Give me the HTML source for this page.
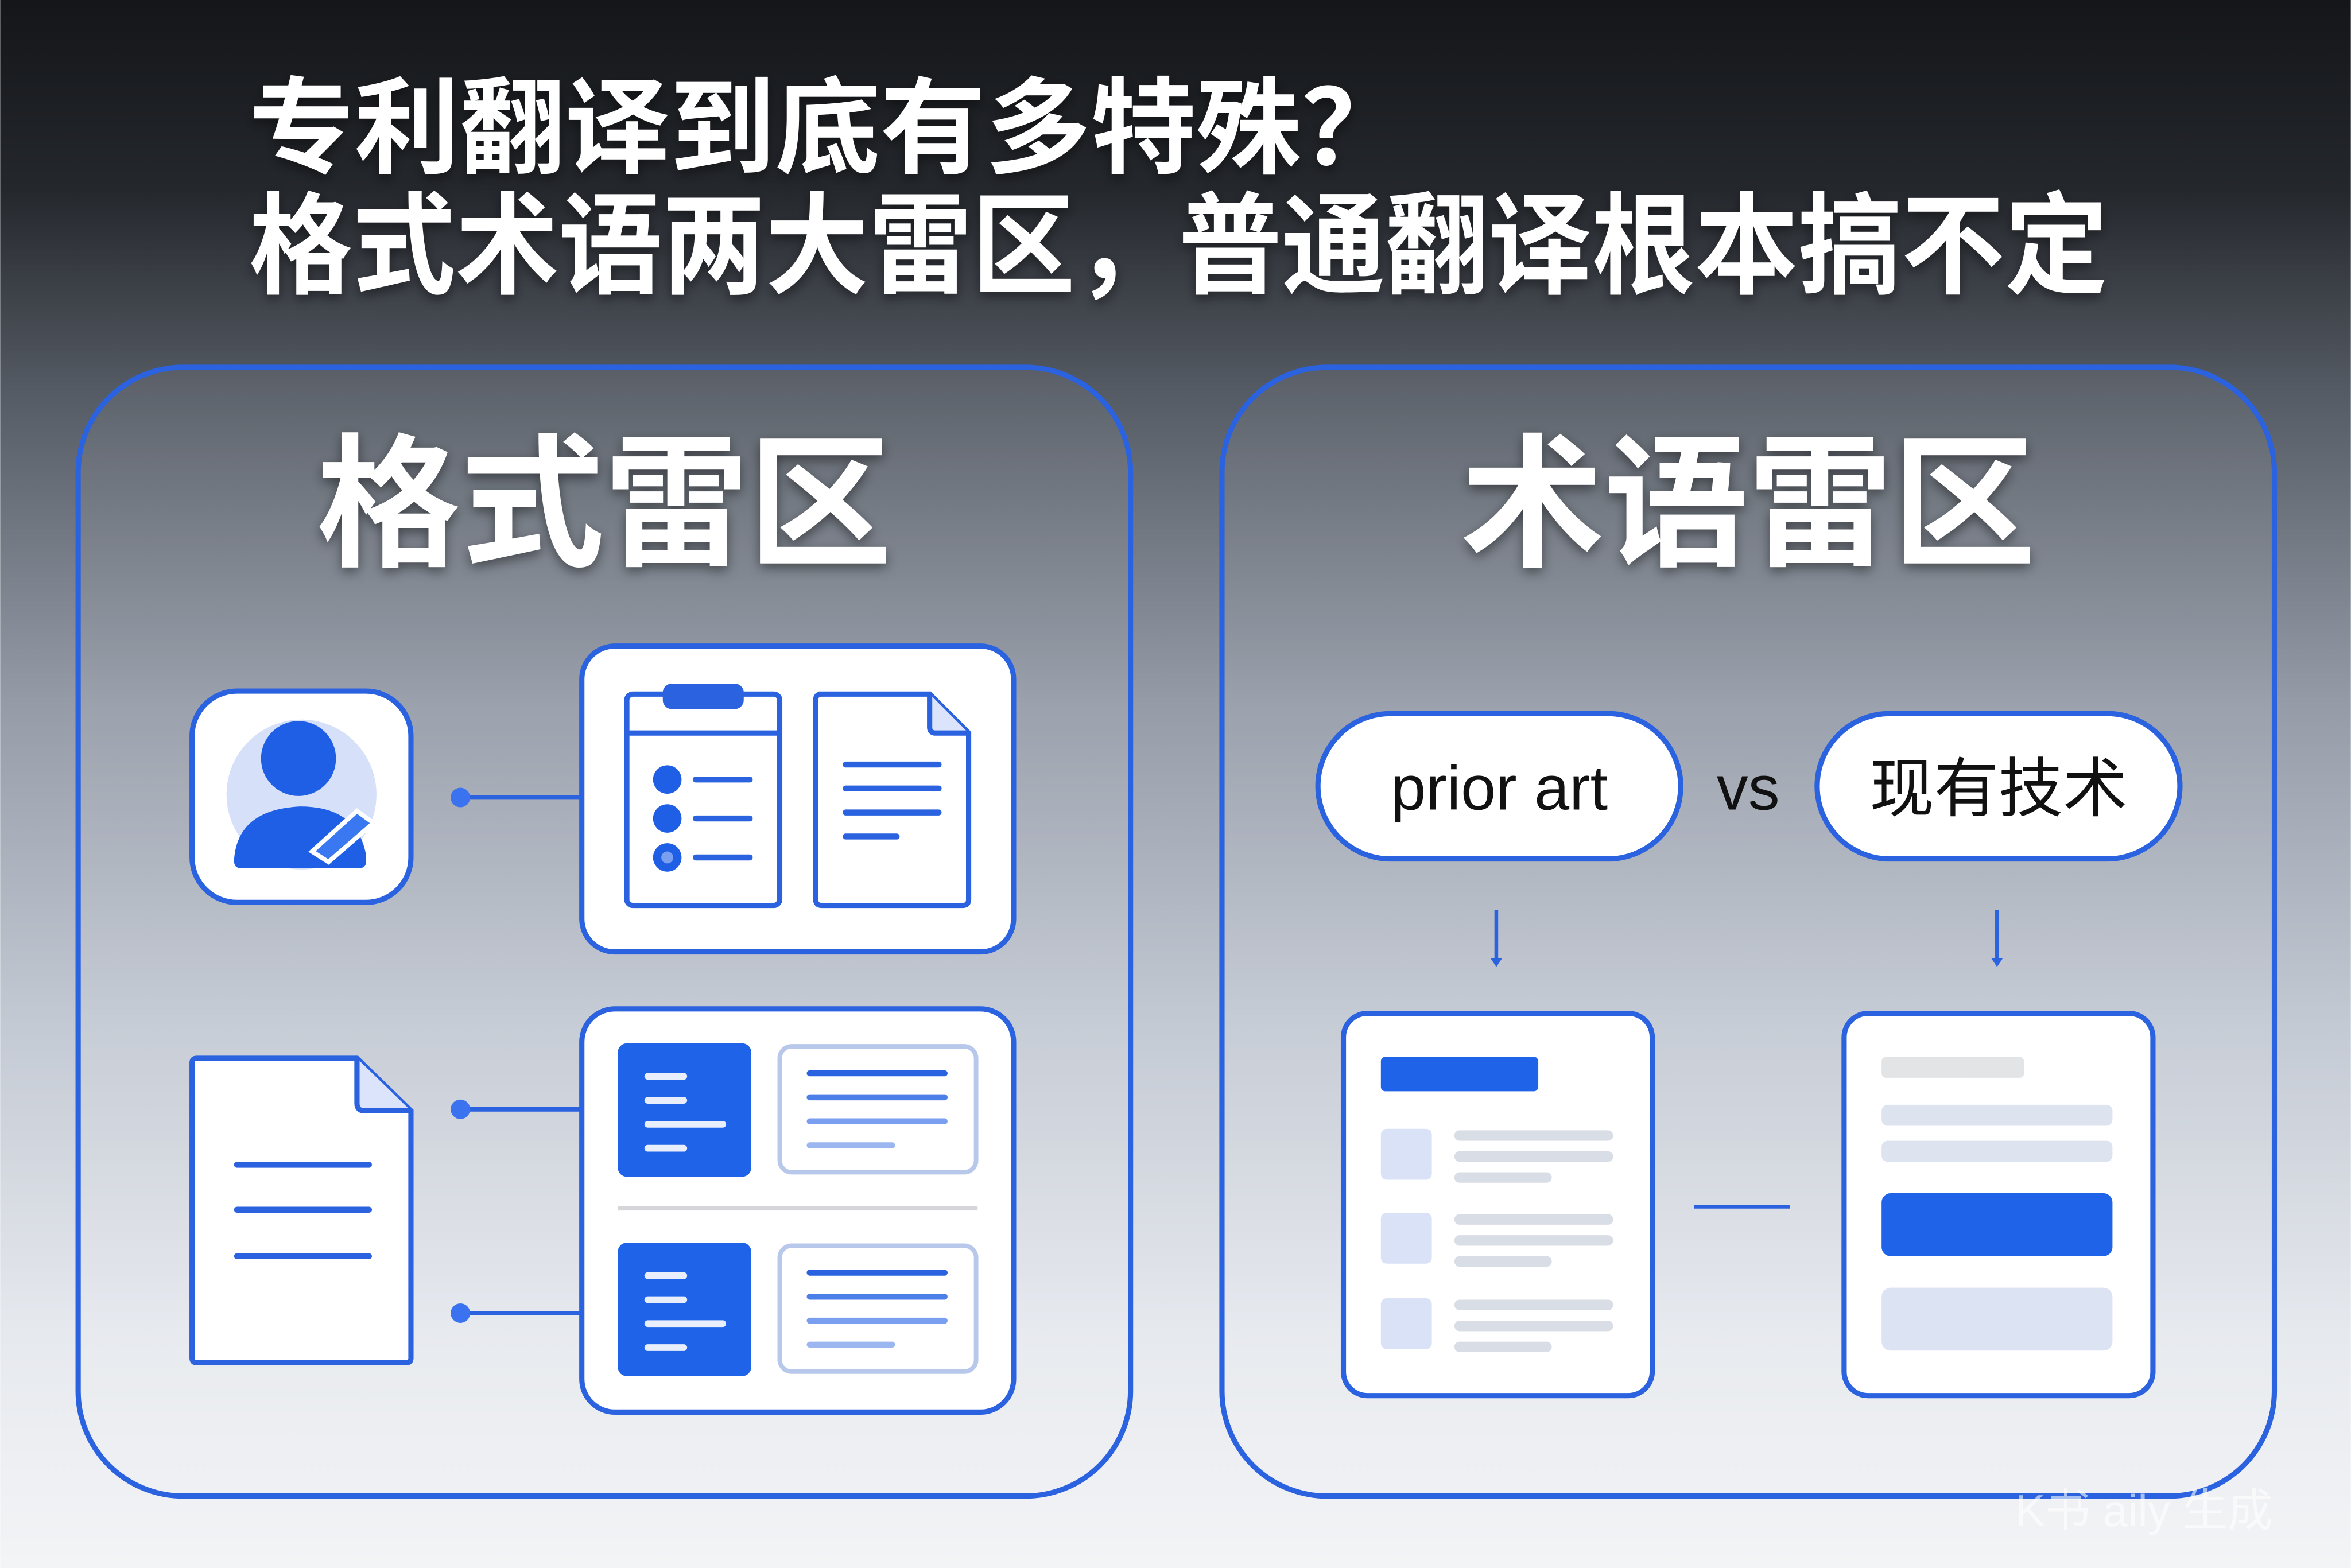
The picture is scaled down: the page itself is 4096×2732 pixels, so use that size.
<!DOCTYPE html>
<html><head><meta charset="utf-8"><style>
html,body{margin:0;padding:0;width:4096px;height:2732px;overflow:hidden;}
svg{display:block}
</style></head><body>
<svg width="4096" height="2732" viewBox="0 0 1568 1046" xmlns="http://www.w3.org/2000/svg">
<defs>
<linearGradient id="bg" x1="0" y1="0" x2="0" y2="1">
<stop offset="0" stop-color="#141619"/>
<stop offset="0.12" stop-color="#24272c"/>
<stop offset="0.25" stop-color="#555b64"/>
<stop offset="0.45" stop-color="#959ca8"/>
<stop offset="0.65" stop-color="#c3c9d3"/>
<stop offset="0.85" stop-color="#e6e9ee"/>
<stop offset="1" stop-color="#f3f4f6"/>
</linearGradient>
<filter id="sh" x="-10%" y="-20%" width="120%" height="140%"><feDropShadow dx="0" dy="3" stdDeviation="4" flood-color="#000" flood-opacity="0.45"/></filter>
</defs>
<rect width="1568" height="1046" fill="url(#bg)"/>
<g font-family="'Liberation Sans','Noto Sans CJK SC',sans-serif" font-weight="bold" fill="#fff" filter="url(#sh)">
<text x="166" y="110" font-size="70" textLength="772" lengthAdjust="spacingAndGlyphs">专利翻译到底有多特殊？</text>
<text x="166" y="190" font-size="74" textLength="1240" lengthAdjust="spacingAndGlyphs">格式术语两大雷区，普通翻译根本搞不定</text>
</g>
<!-- panels -->
<g fill="#ffffff" fill-opacity="0.06" stroke="#2a62e0" stroke-width="3.5">
<rect x="52" y="245" width="702" height="753" rx="70"/>
<rect x="815" y="245" width="702" height="753" rx="70"/>
</g>
<g font-family="'Liberation Sans','Noto Sans CJK SC',sans-serif" font-weight="bold" fill="#fff" font-size="96" text-anchor="middle" filter="url(#sh)">
<text x="403" y="370">格式雷区</text>
<text x="1166" y="370">术语雷区</text>
</g>
<!-- left content -->
<g stroke="#2a62e0" stroke-width="3.5" fill="#fff">
<rect x="128" y="461" width="146" height="141" rx="30"/>
<rect x="388" y="431" width="288" height="204" rx="22"/>
<rect x="388" y="673" width="288" height="269" rx="22"/>
<path d="M131 706 H238 L274 741 V906 Q274 909 271 909 H131 Q128 909 128 906 V709 Q128 706 131 706Z"/>
<path d="M238 706 V736 Q238 741 243 741 H274" fill="#dbe4fb"/>
</g>
<g stroke="#2a62e0" stroke-width="3">
<line x1="307" y1="532" x2="388" y2="532"/>
<line x1="307" y1="740" x2="388" y2="740"/>
<line x1="307" y1="876" x2="388" y2="876"/>
</g>
<g fill="#3a72f0"><circle cx="307" cy="532" r="6.5"/><circle cx="307" cy="740" r="6.5"/><circle cx="307" cy="876" r="6.5"/></g>
<!-- person -->
<circle cx="201" cy="530" r="50" fill="#d6e0f8"/>
<circle cx="199" cy="506" r="25" fill="#1f5fe6"/>
<path d="M156 574 Q158 540 200 538 Q238 538 244 570 V575 Q244 579 240 579 H160 Q156 579 156 574Z" fill="#1f5fe6"/>
<path d="M208 568 L238 541 L249 549 L219 575Z" fill="#3a78f2" stroke="#fff" stroke-width="3"/>
<!-- clipboard -->
<g stroke="#2a62e0" stroke-width="3.5" fill="none">
<rect x="418" y="463" width="102" height="141" rx="4"/>
<line x1="418" y1="489" x2="520" y2="489"/>
<path d="M546 463 H620 L646 489 V600 Q646 604 642 604 H548 Q544 604 544 600 V467 Q544 463 548 463Z"/>
<path d="M620 463 V485 Q620 489 624 489 H646" fill="#dbe4fb"/>
</g>
<rect x="442" y="456" width="54" height="17" rx="6" fill="#2a62e0"/>
<g fill="#1f5fe6"><circle cx="445" cy="520" r="9.5"/><circle cx="445" cy="546" r="9.5"/><circle cx="445" cy="572" r="9.5"/></g>
<circle cx="445" cy="572" r="4" fill="#7a9ff0"/>
<g stroke="#2a62e0" stroke-width="4" stroke-linecap="round">
<line x1="464" y1="520" x2="500" y2="520"/><line x1="464" y1="546" x2="500" y2="546"/><line x1="464" y1="572" x2="500" y2="572"/>
<line x1="564" y1="510" x2="626" y2="510"/><line x1="564" y1="526" x2="626" y2="526"/><line x1="564" y1="542" x2="626" y2="542"/><line x1="564" y1="558" x2="598" y2="558"/>
<line x1="158" y1="777" x2="246" y2="777"/><line x1="158" y1="807" x2="246" y2="807"/><line x1="158" y1="838" x2="246" y2="838"/>
</g>
<!-- lower box content -->
<rect x="412" y="696" width="89" height="89" rx="6" fill="#1f63e8"/>
<rect x="412" y="829" width="89" height="89" rx="6" fill="#1f63e8"/>
<g stroke="#b7c8ea" stroke-width="3" fill="#fff">
<rect x="520" y="698" width="131" height="84" rx="8"/>
<rect x="520" y="831" width="131" height="84" rx="8"/>
</g>
<line x1="412" y1="806" x2="652" y2="806" stroke="#d4d6da" stroke-width="3"/>
<g stroke="#e8eefc" stroke-width="4.5" stroke-linecap="round">
<line x1="432" y1="718" x2="456" y2="718"/><line x1="432" y1="734" x2="456" y2="734"/><line x1="432" y1="750" x2="482" y2="750"/><line x1="432" y1="766" x2="456" y2="766"/>
<line x1="432" y1="851" x2="456" y2="851"/><line x1="432" y1="867" x2="456" y2="867"/><line x1="432" y1="883" x2="482" y2="883"/><line x1="432" y1="899" x2="456" y2="899"/>
</g>
<g stroke-width="4" stroke-linecap="round">
<line x1="540" y1="716" x2="630" y2="716" stroke="#2a62e0"/><line x1="540" y1="732" x2="630" y2="732" stroke="#4d7fe8"/><line x1="540" y1="748" x2="630" y2="748" stroke="#7b9ff0"/><line x1="540" y1="764" x2="595" y2="764" stroke="#9cb6f0"/>
<line x1="540" y1="849" x2="630" y2="849" stroke="#2a62e0"/><line x1="540" y1="865" x2="630" y2="865" stroke="#4d7fe8"/><line x1="540" y1="881" x2="630" y2="881" stroke="#7b9ff0"/><line x1="540" y1="897" x2="595" y2="897" stroke="#9cb6f0"/>
</g>
<!-- right content -->
<g stroke="#2a62e0" stroke-width="3.5" fill="#fff">
<rect x="879" y="476" width="242" height="97" rx="48.5"/>
<rect x="1212" y="476" width="242" height="97" rx="48.5"/>
<rect x="896" y="676" width="206" height="255" rx="16"/>
<rect x="1230" y="676" width="206" height="255" rx="16"/>
</g>
<g font-family="'Liberation Sans','Noto Sans CJK SC',sans-serif" fill="#111" text-anchor="middle">
<text x="1000" y="540" font-size="42">prior art</text>
<text x="1166" y="540" font-size="42">vs</text>
<text x="1333" y="541" font-size="43">现有技术</text>
</g>
<g stroke="#2a62e0" stroke-width="2.5">
<line x1="998" y1="607" x2="998" y2="640"/><line x1="1332" y1="607" x2="1332" y2="640"/>
<line x1="1130" y1="805" x2="1194" y2="805"/>
</g>
<g fill="#2a62e0"><path d="M994 639 L1002 639 L998 645Z"/><path d="M1328 639 L1336 639 L1332 645Z"/></g>
<rect x="921" y="705" width="105" height="23" rx="3" fill="#1f63e8"/>
<g fill="#dae2f7"><rect x="921" y="753" width="34" height="34" rx="4"/><rect x="921" y="809" width="34" height="34" rx="4"/><rect x="921" y="866" width="34" height="34" rx="4"/></g>
<g fill="#d9dde5">
<rect x="970" y="754" width="106" height="7" rx="3.5"/><rect x="970" y="768" width="106" height="7" rx="3.5"/><rect x="970" y="782" width="65" height="7" rx="3.5"/>
<rect x="970" y="810" width="106" height="7" rx="3.5"/><rect x="970" y="824" width="106" height="7" rx="3.5"/><rect x="970" y="838" width="65" height="7" rx="3.5"/>
<rect x="970" y="867" width="106" height="7" rx="3.5"/><rect x="970" y="881" width="106" height="7" rx="3.5"/><rect x="970" y="895" width="65" height="7" rx="3.5"/>
</g>
<rect x="1255" y="705" width="95" height="14" rx="3" fill="#e3e4e6"/>
<rect x="1255" y="737" width="154" height="14" rx="4" fill="#dde3ef"/>
<rect x="1255" y="761" width="154" height="14" rx="4" fill="#dde3ef"/>
<rect x="1255" y="796" width="154" height="42" rx="6" fill="#1f63e8"/>
<rect x="1255" y="859" width="154" height="42" rx="6" fill="#dce3f2"/>
<text x="1430" y="1018" font-family="'Liberation Sans','Noto Sans CJK SC',sans-serif" font-size="30" fill="#ffffff" fill-opacity="0.6" text-anchor="middle">K书 aily 生成</text>
</svg>
</body></html>
